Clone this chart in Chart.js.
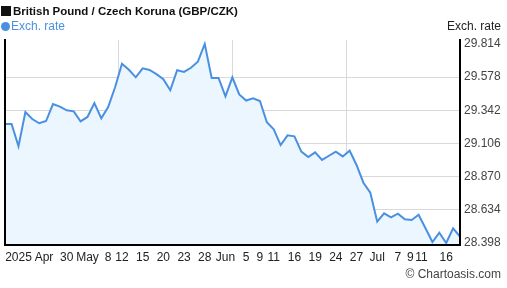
<!DOCTYPE html>
<html>
<head>
<meta charset="utf-8">
<title>GBP/CZK</title>
<script src="https://cdn.jsdelivr.net/npm/chart.js@4/dist/chart.umd.min.js"></script>
<style>
  html, body { margin: 0; padding: 0; background: #fff; }
  #wrap { position: relative; width: 507px; height: 288px; overflow: hidden;
          font-family: 'Liberation Sans', Arial, sans-serif; font-size: 12px; }
  #chart { position: absolute; left: 0; top: 0; }
  .txt { position: absolute; line-height: 14px; white-space: nowrap; }
  #title { left: 1px; top: 4px; font-weight: bold; font-size: 11.5px; color: #111; }
  #title .sq { display: inline-block; width: 10px; height: 10px; background: #111;
               margin-right: 2px; vertical-align: -1px; }
  #legend { left: 1px; top: 19px; color: #4a90e2; }
  #legend .dot { display: inline-block; width: 9px; height: 9px; border-radius: 50%;
                 background: #4a90e2; margin-right: 1px; vertical-align: -1px; }
  #ytitle { right: 6px; top: 19px; color: #222; }
  #credit { right: 6px; top: 267px; color: #444; }
</style>
</head>
<body>
<div id="wrap">
  <canvas id="chart" width="507" height="288"></canvas>
  <div class="txt" id="title"><span class="sq"></span>British Pound / Czech Koruna (GBP/CZK)</div>
  <div class="txt" id="legend"><span class="dot"></span>Exch. rate</div>
  <div class="txt" id="ytitle">Exch. rate</div>
  <div class="txt" id="credit">© Chartoasis.com</div>
</div>

<script>
/* ── Data: daily GBP/CZK close, 17 Apr – 18 Jul 2025 (trading days) ── */
const rates = [
  29.245, 29.245, 29.086, 29.330, 29.280, 29.250, 29.266, 29.387, 29.368, 29.342,
  29.335, 29.264, 29.295, 29.394, 29.285, 29.366, 29.506, 29.674, 29.631, 29.577,
  29.641, 29.629, 29.600, 29.563, 29.485, 29.627, 29.615, 29.645, 29.688, 29.814,
  29.572, 29.572, 29.442, 29.577, 29.455, 29.412, 29.428, 29.408, 29.257, 29.207,
  29.095, 29.164, 29.157, 29.048, 29.010, 29.043, 28.989, 29.019, 29.048, 29.014,
  29.055, 28.953, 28.827, 28.756, 28.550, 28.609, 28.581, 28.607, 28.567, 28.562,
  28.599, 28.503, 28.405, 28.471, 28.398, 28.503, 28.443,
];

/* x-axis labels: index of the trading day they sit under + text */
const xTickIdx  = [2, 5.7, 9, 12, 15, 17, 20, 23, 26, 29, 32, 35, 37, 39, 42, 45, 48, 51, 54, 57, 58.8, 60.4, 64];
const xTickText = ['2025', 'Apr', '30', 'May', '8', '12', '15', '20', '23', '28', 'Jun',
                   '5', '9', '11', '16', '19', '24', '27', 'Jul', '7', '9', '11', '16'];

/* y-axis: min, max and five evenly spaced steps between them */
const yTicks = [28.398, 28.634, 28.870, 29.106, 29.342, 29.578, 29.814];
const yMin   = 28.3838;
const yMax   = 29.8425;

/* ── Theme ─────────────────────────────────────────────────── */
const LINE_COLOR = '#4a90e2';
const FILL_COLOR = '#ecf6ff';
const GRID_COLOR = '#d9d9d9';
const FONT       = { family: "'Liberation Sans', Arial, sans-serif", size: 12 };

const lastIdx = rates.length - 1;

new Chart(document.getElementById('chart').getContext('2d'), {
  type: 'line',
  data: {
    datasets: [{
      data:            rates.map((v, i) => ({ x: i, y: v })),
      borderColor:     LINE_COLOR,
      backgroundColor: FILL_COLOR,
      borderWidth:     2,
      pointRadius:     0,
      tension:         0,
      fill:            'start',
    }],
  },
  options: {
    responsive: false,
    animation:  false,
    layout: { padding: { top: 40, left: 1, right: 0, bottom: 0 } },
    plugins: {
      legend:  { display: false },
      tooltip: { enabled: false },
    },
    scales: {
      x: {
        type: 'linear',
        position: 'bottom',
        min: 0,
        max: lastIdx,
        grid:   { display: false, drawTicks: false },
        border: { display: true, color: '#000', width: 2, z: 1 },
        afterBuildTicks: axis => { axis.ticks = xTickIdx.map(v => ({ value: v })); },
        afterFit: axis => { axis.height = 43; },
        ticks: {
          autoSkip: false,
          maxRotation: 0,
          minRotation: 0,
          padding: 5,
          color: '#222',
          font: FONT,
          callback: (v, i) => xTickText[i],
        },
      },
      /* quarter-width vertical gridlines */
      xq: {
        type: 'linear',
        position: 'top',
        min: 0,
        max: lastIdx,
        grid:   { color: GRID_COLOR, lineWidth: 1, drawTicks: false },
        border: { display: false },
        ticks:  { display: false },
        afterBuildTicks: axis => { axis.ticks = [1, 2, 3].map(k => ({ value: lastIdx * k / 4 })); },
        afterFit: axis => { axis.height = 0; },
      },
      y: {
        type: 'linear',
        position: 'right',
        min: yMin,
        max: yMax,
        grid: {
          drawTicks: false,
          lineWidth: 1,
          color: ctx => (ctx.index === 0 || ctx.index === yTicks.length - 1) ? 'transparent' : GRID_COLOR,
        },
        border: { display: true, color: '#000', width: 2, z: 1 },
        afterBuildTicks: axis => { axis.ticks = yTicks.map(v => ({ value: v })); },
        afterFit: axis => { axis.width = 47; },
        ticks: {
          padding: 4,
          color: '#444',
          font: FONT,
          callback: v => v.toFixed(3),
        },
      },
      /* left frame line */
      yl: {
        type: 'linear',
        position: 'left',
        min: yMin,
        max: yMax,
        grid:   { display: false, drawTicks: false },
        border: { display: true, color: '#000', width: 2, z: 1 },
        ticks:  { display: false },
        afterFit: axis => { axis.width = 0; },
      },
    },
  },
});
</script>
</body>
</html>
